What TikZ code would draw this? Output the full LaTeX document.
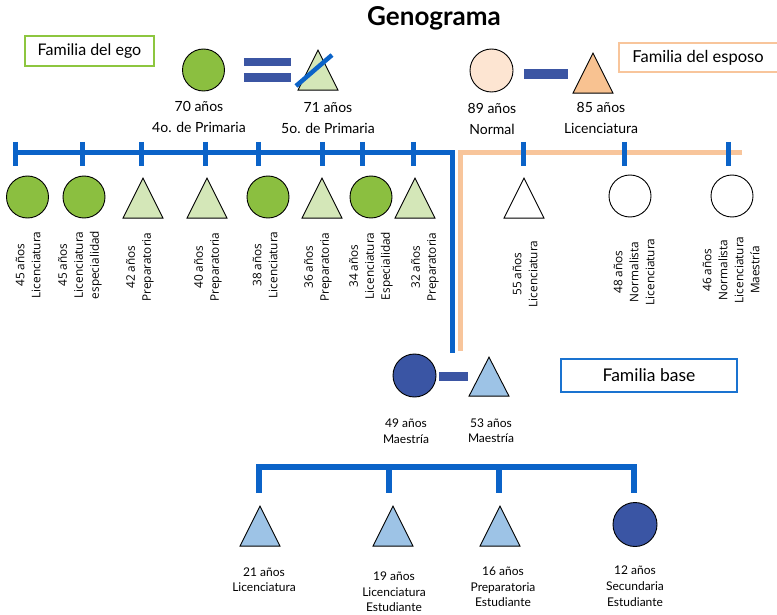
\documentclass[tikz,border=0pt]{standalone}
\usepackage{fontspec}
\setmainfont{Lato}
\newfontfamily\rotfont{Open Sans}
\usetikzlibrary{shapes.geometric}

\definecolor{linkblue}{HTML}{0B63C8}
\definecolor{barblue}{HTML}{3B55A3}
\definecolor{darkblue}{HTML}{3A55A4}
\definecolor{lightblue}{HTML}{9DC3E6}
\definecolor{egogreen}{HTML}{8BBF40}
\definecolor{palegreen}{HTML}{D4E7B8}
\definecolor{peach}{HTML}{FDE5D2}
\definecolor{apricot}{HTML}{F8C291}
\definecolor{orangeline}{HTML}{F8C59B}
\definecolor{boxgreen}{HTML}{8DC63F}
\definecolor{boxblue}{HTML}{1A73D0}

\begin{document}
\begin{tikzpicture}[x=1pt, y=-1pt,
  person/.style={draw=black, line width=0.9pt, inner sep=0pt},
  fem/.style={person, circle, minimum size=42pt},
  masc/.style={person, isosceles triangle, isosceles triangle stretches,
    shape border rotate=90, minimum width=40pt, minimum height=40pt, anchor=apex},
  toplbl/.style={align=center, font=\fontsize{14}{21}\selectfont},
  rotlbl/.style={rotate=90, align=center, font=\rotfont\fontsize{11.8}{16}\selectfont},
  baselbl/.style={align=center, font=\fontsize{12}{15.5}\selectfont},
  famline/.style={line width=5pt, draw=linkblue},
  inlawline/.style={line width=5pt, draw=orangeline},
  tickmark/.style={line width=5pt, draw=linkblue},
  couplebar/.style={line width=8.5pt, draw=barblue},
  tagbox/.style={line width=1.2pt, fill=white}
]
\useasboundingbox (0,0) rectangle (777,615);

% title
\node[font=\fontsize{26}{28}\selectfont\bfseries] (title) at (434,18) {Genograma};

% group tags
\draw[tagbox, draw=boxgreen] (25,36) rectangle (154,66);
\node[font=\fontsize{16}{18}\selectfont] (tagego) at (89.5,51) {Familia del ego};
\draw[tagbox, draw=orangeline] (619,43) rectangle (779,72);
\node[font=\fontsize{16.5}{18}\selectfont] (tagesp) at (698,57.5) {Familia del esposo};
\draw[tagbox, draw=boxblue, line width=1.5pt] (561,359) rectangle (737,392);
\node[font=\fontsize{17.5}{20}\selectfont] (tagbase) at (649,375.5) {Familia base};

% grandparents of the ego
\node[fem, fill=egogreen] (egoM) at (203.5,70) {};
\node[masc, fill=palegreen] (egoF) at (318,49) {};
\coordinate (slashA) at (296,86);
\coordinate (slashB) at (332,55);
\draw[linkblue, line width=4.5pt] (slashA) -- (slashB);
\draw[couplebar] ([shift={(19,-8)}]egoM.east) -- +(47,0);
\draw[couplebar] ([shift={(19,7.5)}]egoM.east) -- +(47,0);
\node[toplbl] (egoMl) at (199,117) {70 años\\4o. de Primaria};
\node[toplbl] (egoFl) at (328,118) {71 años\\5o. de Primaria};

% grandparents of the husband
\node[fem, fill=peach, minimum size=43pt] (spM) at (491.5,70.5) {};
\node[masc, fill=apricot] (spF) at (593,52) {};
\draw[line width=10pt, draw=barblue] ([xshift=11pt]spM.east |- 0,74) -- (568,74);
\node[toplbl] (spMl) at (492,119) {89 años\\Normal};
\node[toplbl] (spFl) at (601,118) {85 años\\Licenciatura};

% sibling lines
\coordinate (egoStart) at (13,153);
\coordinate (egoCorner) at (452,153);
\coordinate (egoEnd) at (452,353);
\coordinate (espEnd) at (742,153);
\coordinate (espCorner) at (460,153);
\coordinate (espDown) at (460,351);
\draw[inlawline] (espEnd) -- (espCorner) -- (espDown);
\draw[famline] (egoStart) -- (egoCorner) -- (egoEnd);

% ego siblings
\node[fem, fill=egogreen] (c1) at (27.5,197) {};
\node[fem, fill=egogreen] (c2) at (84,197) {};
\node[masc, fill=palegreen] (c3) at (143,177) {};
\node[masc, fill=palegreen] (c4) at (207,177) {};
\node[fem, fill=egogreen] (c5) at (268,197) {};
\node[masc, fill=palegreen] (c6) at (322,177) {};
\node[fem, fill=egogreen] (c7) at (371,197) {};
\node[masc, fill=palegreen] (c8) at (415,177) {};
\foreach \tx in {15,82,141,205,258,322,362,413}
  \draw[tickmark] (\tx,142) -- (\tx,166);

\node[rotlbl] (c1l) at (28,265) {45 años\\Licenciatura};
\node[rotlbl] (c2l) at (80,265) {45 años\\Licenciatura\\especialidad};
\node[rotlbl] (c3l) at (140,267) {42 años\\Preparatoria};
\node[rotlbl] (c4l) at (208,267) {40 años\\Preparatoria};
\node[rotlbl] (c5l) at (265,265) {38 años\\Licenciatura};
\node[rotlbl] (c6l) at (318,267) {36 años\\Preparatoria};
\node[rotlbl] (c7l) at (371,266) {34 años\\Licenciatura\\Especialidad};
\node[rotlbl] (c8l) at (425,267) {32 años\\Preparatoria};

% husband siblings
\node[masc, fill=white] (s1) at (524,177) {};
\node[fem, fill=white] (s2) at (630,196) {};
\node[fem, fill=white] (s3) at (732,196) {};
\foreach \tx in {523,624,728}
  \draw[tickmark] (\tx,142) -- (\tx,166);
\node[rotlbl] (s1l) at (525,274) {55 años\\Licenciatura};
\node[rotlbl] (s2l) at (634,272) {48 años\\Normalista\\Licenciatura};
\node[rotlbl] (s3l) at (731,270) {46 años\\Normalista\\Licenciatura\\Maestría};

% base couple
\node[fem, fill=darkblue, minimum size=43pt] (bM) at (414.5,375.5) {};
\node[masc, fill=lightblue, minimum height=39pt] (bF) at (489,356) {};
\draw[line width=9pt, draw=barblue] (439,376.5) -- (468,376.5);
\node[baselbl] (bMl) at (406,431) {49 años\\Maestría};
\node[baselbl] (bFl) at (491,430.5) {53 años\\Maestría};

% children
\node[masc, fill=lightblue] (k1) at (260,505) {};
\node[masc, fill=lightblue] (k2) at (393,505) {};
\node[masc, fill=lightblue] (k3) at (500,505) {};
\node[fem, fill=darkblue, minimum size=44pt] (k4) at (635,524.5) {};
\coordinate (kd1) at (259,493);
\coordinate (kd4) at (634,493);
\draw[famline, line width=6pt] (kd1) -- (259,466.5) -- (634,466.5) -- (kd4);
\draw[famline, line width=6pt] (389,466.5) -- (389,493);
\draw[famline, line width=6pt] (499,466.5) -- (499,493);

\node[baselbl, font=\fontsize{12}{15.5}\selectfont] (k1l) at (264,579.5) {21 años\\Licenciatura};
\node[baselbl, font=\fontsize{12}{15.5}\selectfont] (k2l) at (394,592) {19 años\\Licenciatura\\Estudiante};
\node[baselbl, font=\fontsize{12}{15.5}\selectfont] (k3l) at (503,587) {16 años\\Preparatoria\\Estudiante};
\node[baselbl, font=\fontsize{12}{16}\selectfont] (k4l) at (635,586) {12 años\\Secundaria\\Estudiante};
\end{tikzpicture}
\end{document}
